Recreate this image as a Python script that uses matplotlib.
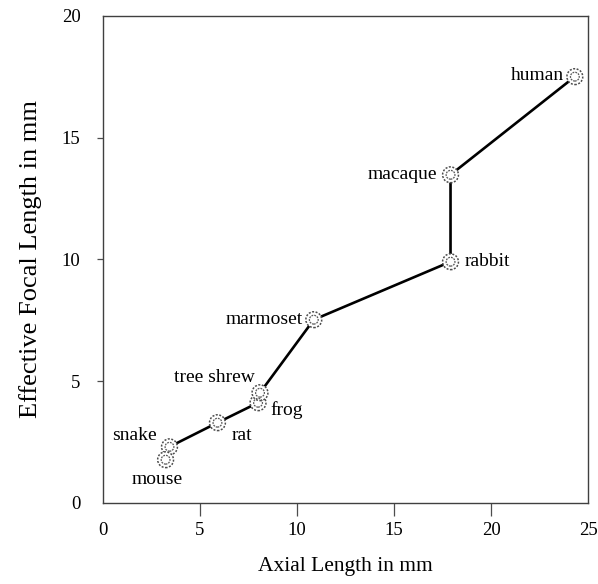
import matplotlib
matplotlib.use("Agg")
import matplotlib.pyplot as plt

plt.rcParams['font.family'] = ['Liberation Serif', 'DejaVu Serif']

# data
animals = ["snake", "rat", "frog", "tree shrew", "marmoset", "rabbit", "macaque", "human", "mouse"]
axial = [3.43, 5.9, 7.99, 8.09, 10.86, 17.9, 17.9, 24.3, 3.23]
focal = [2.30, 3.29, 4.11, 4.52, 7.52, 9.9, 13.47, 17.5, 1.77]
# the line runs through the first 8 animals, mouse stands alone
n_line = 8

# label placement (offset in points, alignment)
label_pos = {
    "human": ((-8, 1), "right"),
    "macaque": ((-10, 0), "right"),
    "rabbit": ((10, 0), "left"),
    "marmoset": ((-8, 0), "right"),
    "tree shrew": ((-4, 11), "right"),
    "frog": ((9, -5), "left"),
    "rat": ((10, -9), "left"),
    "snake": ((-9, 8), "right"),
    "mouse": ((-6, -14), "center"),
}

fig = plt.figure(figsize=(5.98, 5.84), dpi=100)
ax = fig.add_axes([0.172, 0.139, 0.812, 0.834])

ax.plot(axial[:n_line], focal[:n_line], color="black", lw=1.9, zorder=2)
# dashed ring marker with an inner circle
ax.scatter(axial, focal, s=130, facecolors="white", edgecolors="0.3",
           linewidths=1.1, linestyles=(0, (1.3, 1.0)), zorder=3)
ax.scatter(axial, focal, s=40, facecolors="none", edgecolors="0.35",
           linewidths=0.9, linestyles=(0, (1.5, 0.8)), zorder=4)

for name, x, y in zip(animals, axial, focal):
    off, ha = label_pos[name]
    ax.annotate(name, (x, y), xytext=off, textcoords="offset points",
                ha=ha, va="center", fontsize=14)

ax.set_xlim(0, 25)
ax.set_ylim(0, 20)
ax.set_xticks([0, 5, 10, 15, 20, 25])
ax.set_yticks([0, 5, 10, 15, 20])
ax.tick_params(axis="x", direction="out", length=9, width=0.9, pad=5,
               labelsize=13.5, color="0.3")
ax.tick_params(axis="y", direction="out", length=4, width=0.9, pad=12,
               labelsize=13.5, color="0.3")
# no tick marks at the corners
for t in [ax.xaxis.get_major_ticks()[0], ax.xaxis.get_major_ticks()[-1],
          ax.yaxis.get_major_ticks()[0], ax.yaxis.get_major_ticks()[-1]]:
    t.tick1line.set_visible(False)

for s in ax.spines.values():
    s.set_color("0.25")
    s.set_linewidth(1.0)

ax.set_xlabel("Axial Length in mm", fontsize=15.5, labelpad=13)
ax.set_ylabel("Effective Focal Length in mm", fontsize=19, labelpad=14)

fig.savefig("out.png", dpi=100)
